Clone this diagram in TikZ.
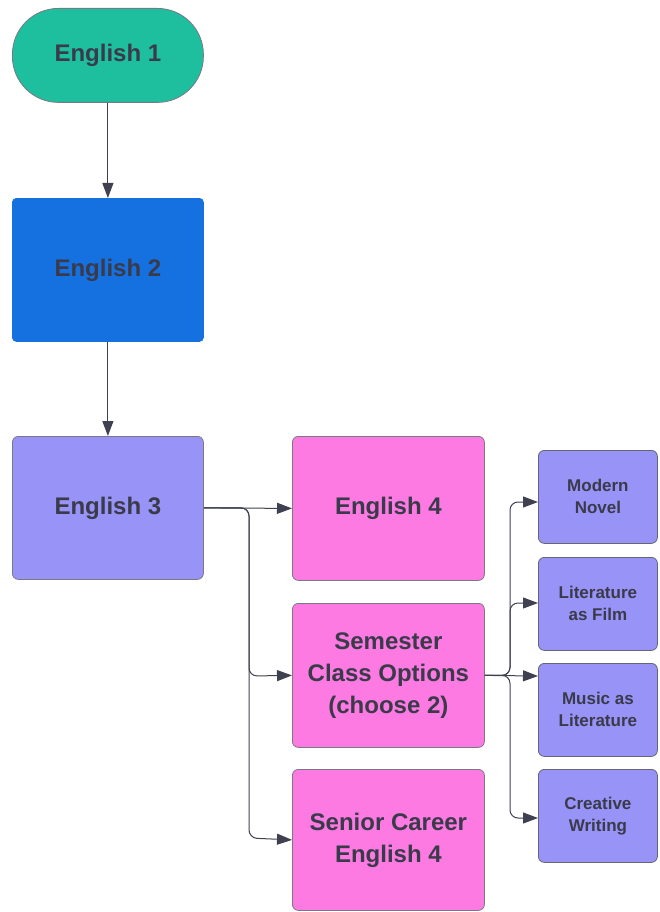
\documentclass[tikz,border=0pt]{standalone}
\usepackage{fontspec}
\setmainfont{Liberation Sans}
\usetikzlibrary{arrows.meta}
\definecolor{teal1}{HTML}{1DBF9F}
\definecolor{blue2}{HTML}{1570E0}
\definecolor{lav}{HTML}{9893F7}
\definecolor{pinkb}{HTML}{FC7AE2}
\definecolor{txt}{HTML}{3A3A4A}
\definecolor{edge}{HTML}{3F4050}
\tikzset{
  x=1pt,y=-1pt,
  bigbox/.style={draw=edge!70,line width=0.8pt,rounded corners=6pt,minimum width=191pt,minimum height=143pt,text=txt,font=\fontsize{24}{32}\selectfont\bfseries,align=center,anchor=north west,inner sep=0pt},
  smallbox/.style={draw=edge!80,line width=0.8pt,rounded corners=6pt,minimum width=119pt,minimum height=93pt,text=txt,font=\fontsize{17}{22}\selectfont\bfseries,align=center,anchor=north west,fill=lav,inner sep=0pt},
  conn/.style={draw=edge,line width=1pt,-{Triangle[length=15pt,width=11pt]}},
}
\begin{document}
\begin{tikzpicture}
\useasboundingbox (0,0) rectangle (660,912);
\node[bigbox,fill=teal1,minimum height=94pt,rounded corners=46pt] (e1) at (12,8) {English 1};
\node[bigbox,fill=blue2,draw=blue2,rounded corners=4pt] (e2) at (12,198) {English 2};
\node[bigbox,fill=lav] (e3) at (12,436) {English 3};
\node[bigbox,fill=pinkb,minimum width=192pt,minimum height=144pt] (e4) at (292,436) {English 4};
\node[bigbox,fill=pinkb,minimum width=192pt,minimum height=144pt] (sem) at (292,603) {Semester\\Class Options\\(choose 2)};
\node[bigbox,fill=pinkb,minimum width=192pt,minimum height=141pt] (sen) at (292,769) {Senior Career\\English 4};
\node[smallbox] (mn) at (538,450) {Modern\\Novel};
\node[smallbox] (lf) at (538,557) {Literature\\as Film};
\node[smallbox] (ml) at (538,663) {Music as\\Literature};
\node[smallbox] (cw) at (538,769) {Creative\\Writing};

\draw[conn] (e1.south) -- (e2.north);
\draw[conn] (e2.south) -- (e3.north);
\draw[conn] (e3.east) -- (e4.west);
\draw[conn,rounded corners=8pt] (e3.east) -| (249,676) -- (sem.west);
\draw[conn,rounded corners=8pt] (e3.east) -| (249,838) -- (sen.west);

\draw[conn,rounded corners=8pt] (sem.east) -| (510,502) -- (mn.west |- 0,502);
\draw[conn,rounded corners=8pt] (sem.east) -| (510,603) -- (lf.west |- 0,603);
\draw[conn] (sem.east) -- (ml.west |- 0,676);
\draw[conn,rounded corners=8pt] (sem.east) -| (510,818) -- (cw.west |- 0,818);
\end{tikzpicture}
\end{document}
